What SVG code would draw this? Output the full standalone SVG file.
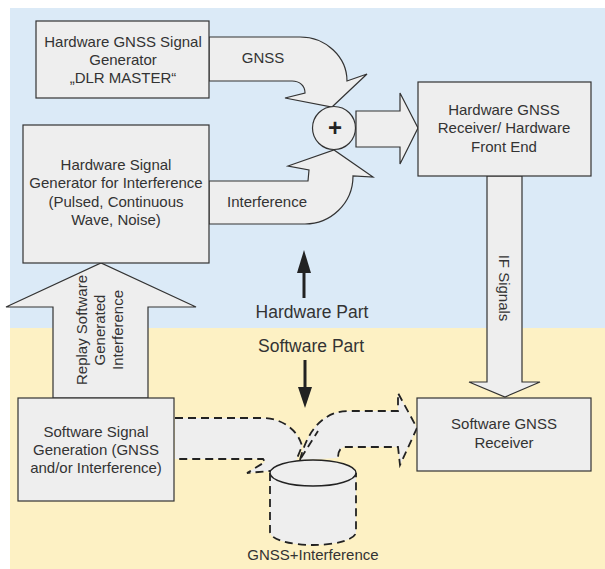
<svg xmlns="http://www.w3.org/2000/svg" width="605" height="569" viewBox="0 0 605 569">
<style>
text{font-family:"Liberation Sans",Arial,sans-serif;font-size:15px;fill:#333;text-anchor:middle}
.box{fill:#eeeeee;stroke:#333;stroke-width:1.2}
.arr{fill:#eeeeee;stroke:#333;stroke-width:1.2;stroke-linejoin:miter}
.dash{fill:#eeeeee;stroke:#222;stroke-width:1.8;stroke-dasharray:8 5}
.big{font-size:17.5px}
</style>
<rect x="10" y="8" width="595" height="320" fill="#dbeaf7"/>
<rect x="10" y="328" width="595" height="241" fill="#fdf1c4"/>
<g id="connectors">
<path class="arr" d="M209,37 H300 C326,37 347,57 347,81 L367,74 L332,107 L285,98 L305,93 C305,86 300,81 292,81 H209 Z"/>
<path class="arr" d="M209,224 H305 C330,224 353,204 353,176 L373,177 L334,150 L288,166 L309,170 L308,181 H209 Z"/>
<path class="arr" d="M356,111 H400 V93 L418,128 L400,164 V147 H356 Z"/>
<path class="arr" d="M487,176 V382 H469 L505,397 L540,382 H522 V176 Z"/>
<path class="arr" d="M53,398 V307 H6 L101,263 L196,307 H148 V398 Z"/>
<path class="dash" d="M175,418 H262 C282,418 298,430 302,446 L292,471 H270 L247,473 L265,462 L263,459 H175"/>
<path class="dash" d="M300,460 C305,440 315,420 335,413 Q342,411 350,411 H398 V393 L417,428 L400,465 L398,447 H345 C340,447 338,452 338,458"/>
<path d="M301,458 L318,431" fill="none" stroke="#222" stroke-width="1.8" stroke-dasharray="8 5"/>
<line x1="304" y1="298" x2="304" y2="268" stroke="#222" stroke-width="3"/>
<polygon points="297,273 304,250 311,273" fill="#222"/>
<line x1="305" y1="360" x2="305" y2="390" stroke="#222" stroke-width="3"/>
<polygon points="298,387 305,408 312,387" fill="#222"/>
</g>
<g id="sum">
<circle cx="334" cy="128" r="21.5" class="arr"/>
<text x="335" y="136" style="font-size:24px;font-weight:bold;fill:#222">+</text>
</g>
<g id="gnss-gen">
<rect class="box" x="36" y="21" width="173" height="77"/>
<text x="123" y="47">Hardware GNSS Signal</text>
<text x="123" y="65">Generator</text>
<text x="123" y="83">„DLR MASTER“</text>
</g>
<g id="intf-gen">
<rect class="box" x="23" y="125" width="186" height="138"/>
<text x="116" y="170">Hardware Signal</text>
<text x="116" y="188">Generator for Interference</text>
<text x="116" y="207">(Pulsed, Continuous</text>
<text x="116" y="225">Wave, Noise)</text>
</g>
<g id="hw-rx">
<rect class="box" x="418" y="82" width="173" height="94"/>
<text x="504" y="115">Hardware GNSS</text>
<text x="504" y="133">Receiver/ Hardware</text>
<text x="504" y="152">Front End</text>
</g>
<g id="sw-rx">
<rect class="box" x="417" y="398" width="174" height="73"/>
<text x="504" y="429">Software GNSS</text>
<text x="504" y="448">Receiver</text>
</g>
<g id="sw-gen">
<rect class="box" x="18" y="398" width="156" height="103"/>
<text x="96" y="437">Software Signal</text>
<text x="96" y="455">Generation (GNSS</text>
<text x="96" y="473">and/or Interference)</text>
</g>
<g id="storage">
<path d="M270,473 V532 A43,13 0 0 0 356,532 V473" fill="#eeeeee" stroke="#222" stroke-width="1.8" stroke-dasharray="8 5"/>
<ellipse cx="313" cy="473" rx="43" ry="13" fill="#eeeeee" stroke="#222" stroke-width="1.5"/>
<text x="313" y="560">GNSS+Interference</text>
</g>
<g id="labels">
<text x="263" y="63">GNSS</text>
<text x="267" y="207">Interference</text>
<text x="312" y="318" class="big">Hardware Part</text>
<text x="311" y="352" class="big">Software Part</text>
<text transform="translate(499,288) rotate(90)">IF Signals</text>
<text transform="translate(87,330) rotate(-90)">Replay Software</text>
<text transform="translate(105,330) rotate(-90)">Generated</text>
<text transform="translate(123,330) rotate(-90)">Interference</text>
</g>
</svg>
